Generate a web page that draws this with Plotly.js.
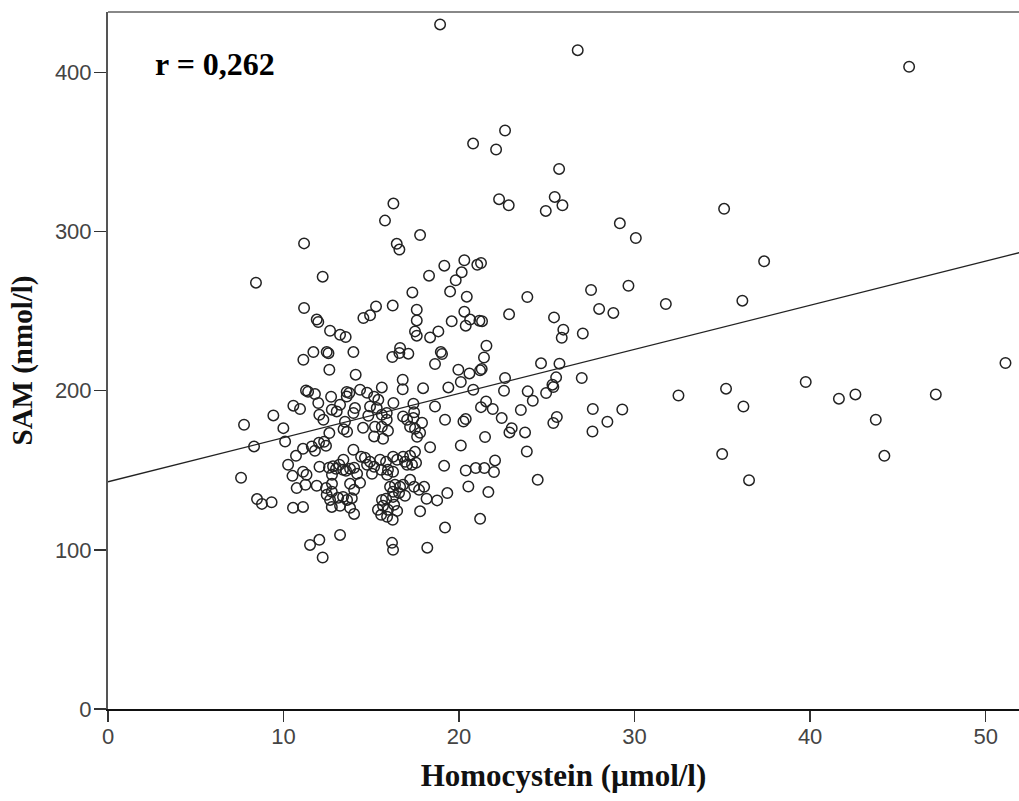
<!DOCTYPE html>
<html>
<head>
<meta charset="utf-8">
<script src="https://cdn.plot.ly/plotly-3.0.1.min.js"></script>
<style>html,body{margin:0;padding:0;background:#fff;}#chart{width:1019px;height:801px;}</style>
</head>
<body>
<div id="chart"></div>
<script>
// Homocystein (µmol/l)
const hcy = [
7.58,7.75,8.43,8.32,8.49,8.77,9.32,9.42,9.99,10.09,10.26,10.54,10.56,10.51,10.71,10.75,10.94,
11.11,11.11,11.17,11.17,11.13,11.28,11.40,11.11,11.31,11.25,11.61,11.79,12.02,12.31,12.42,11.70,11.89,11.98,11.79,
11.98,12.04,12.27,12.05,11.89,12.42,12.46,12.76,12.75,12.65,12.75,12.23,12.46,12.56,12.61,12.65,12.71,12.75,13.03,
13.22,12.61,12.59,12.82,12.99,12.76,13.39,13.18,13.41,13.22,13.54,11.51,12.04,12.23,13.22,13.11,13.39,13.62,13.22,
13.79,13.50,13.42,13.62,13.60,13.75,13.60,13.56,13.79,14.02,14.19,13.79,14.02,14.36,13.89,13.98,13.98,14.07,13.98,
14.11,14.02,
14.36,14.76,15.16,14.55,14.93,15.27,15.40,15.31,14.93,14.83,15.60,15.88,15.88,15.60,16.26,16.22,16.26,15.78,16.45,
16.60,14.53,15.21,15.60,15.16,15.67,15.95,16.64,16.60,17.11,16.20,16.79,16.79,16.81,17.40,17.44,17.40,17.04,17.21,
17.49,17.78,17.61,17.89,17.34,17.59,17.59,17.49,17.59,14.42,14.64,14.93,14.76,15.16,15.04,15.50,15.56,15.84,15.90,
15.95,16.24,16.47,16.24,16.81,16.92,17.21,17.49,17.04,17.32,17.55,16.07,16.35,16.64,16.24,16.58,16.24,16.92,16.81,
17.21,17.44,17.72,18.01,15.61,15.84,15.67,15.38,15.56,15.90,15.95,16.30,16.47,16.22,16.18,16.24,17.78,18.15,18.75,
18.19,17.78,18.29,17.95,18.35,
18.92,19.16,20.30,21.04,21.25,20.15,19.81,19.49,20.44,20.30,19.58,20.63,21.16,21.31,20.38,18.82,18.35,20.80,22.11,
22.62,21.56,21.42,18.96,19.03,18.63,19.96,20.59,21.20,21.29,20.10,19.39,20.81,18.63,19.20,20.25,20.38,21.54,21.25,
21.92,22.43,21.48,20.10,19.15,20.38,20.95,21.44,22.05,21.99,20.53,21.67,19.33,21.20,19.20,22.28,22.83,
22.62,22.56,22.85,23.89,23.00,22.87,23.76,23.52,23.86,23.91,24.20,24.48,24.67,25.72,25.53,25.32,25.37,24.96,25.57,
25.37,25.41,25.94,25.85,27.05,25.70,25.45,25.89,24.94,26.76,26.99,27.52,27.98,28.79,29.65,31.78,27.62,29.30,28.45,
27.60,29.16,30.07,36.14,35.10,37.38,32.50,35.21,36.20,39.75,41.64,42.58,47.16,43.74,34.99,44.23,36.52,45.64,51.13
];
// SAM (nmol/l)
const sam = [
145.3,178.6,267.9,165.0,131.9,128.9,129.9,184.5,176.5,168.1,153.5,126.4,190.6,146.5,159.1,138.8,188.5,
163.5,127.0,292.6,252.0,219.5,200.2,199.4,149.1,147.2,140.9,165.0,162.3,167.3,167.9,165.4,224.3,244.7,243.2,197.9,
192.3,184.9,181.8,152.2,140.3,138.8,134.6,141.5,136.5,131.4,127.0,271.7,224.3,223.6,213.2,237.7,196.2,188.1,187.0,
191.2,173.4,151.6,152.5,150.9,147.2,150.3,153.5,156.6,235.2,233.8,103.1,106.3,95.2,109.4,132.7,133.3,131.4,127.7,
126.4,180.5,175.8,174.2,199.2,198.6,196.4,149.7,150.9,151.6,147.8,141.5,137.7,142.1,132.5,162.9,186.0,189.1,224.3,
210.1,122.6,
200.6,198.7,196.2,245.7,247.4,253.0,194.3,189.1,190.1,184.3,184.9,181.8,186.0,202.1,192.3,253.5,317.6,306.9,292.3,
288.7,176.7,177.4,177.4,171.3,169.8,174.8,226.9,223.7,223.3,221.2,206.9,200.9,183.8,191.8,186.5,182.8,181.8,177.4,
176.1,173.6,171.1,179.9,261.8,250.9,244.2,237.3,234.6,158.5,157.9,155.3,153.5,152.2,147.8,156.6,150.3,155.3,147.2,
150.3,158.5,156.6,149.1,158.5,155.3,159.1,161.6,153.5,153.5,154.7,139.6,140.9,139.6,136.5,135.8,133.3,134.0,140.9,
144.0,139.6,137.7,139.6,131.4,132.1,127.7,125.2,122.0,120.8,125.2,128.3,124.5,118.9,104.4,100.0,124.2,132.1,131.1,
101.4,297.8,272.3,201.6,164.5,
430.2,278.6,282.0,279.1,280.3,274.4,269.4,262.3,259.1,249.7,243.6,244.7,244.0,243.7,240.9,237.3,233.5,355.3,351.6,
363.5,228.3,220.9,224.3,223.1,216.8,213.2,210.9,212.8,213.6,205.5,202.1,200.6,190.1,181.8,180.7,182.2,193.3,189.7,
188.5,182.8,170.9,165.6,152.8,149.9,151.4,151.4,156.2,148.9,139.8,136.3,135.7,119.5,114.0,320.4,316.5,
208.0,200.0,248.0,258.9,176.5,173.8,173.8,187.9,161.8,199.6,193.7,144.0,217.2,217.0,208.4,203.8,202.3,198.6,183.5,
179.7,246.1,238.4,233.3,236.0,339.4,321.8,316.5,313.0,414.0,208.0,263.3,251.4,248.9,266.0,254.5,188.5,188.2,180.5,
174.4,305.2,296.0,256.6,314.3,281.3,197.0,201.3,190.1,205.5,195.0,197.7,197.7,181.8,160.2,159.1,143.8,403.6,217.4
];
// Linear fit line (end points)
const fitX = [0, 52];
const fitY = [142.8, 287.0];
const xTicks = [0, 10, 20, 30, 40, 50];
const yTicks = [0, 100, 200, 300, 400];
const xTitle = 'Homocystein (µmol/l)';
const yTitle = 'SAM (nmol/l)';
const rLabel = 'r = 0,262';

const traces = [
  {x: hcy, y: sam, type: 'scatter', mode: 'markers',
   marker: {symbol: 'circle-open', size: 10.5, color: '#222', line: {width: 1.5, color: '#222'}},
   hoverinfo: 'x+y'},
  {x: fitX, y: fitY, type: 'scatter', mode: 'lines',
   line: {color: '#222', width: 1.3}, hoverinfo: 'skip'}
];

const layout = {
  width: 1019, height: 801,
  margin: {l: 108, r: 0, t: 12, b: 92},
  paper_bgcolor: '#fff', plot_bgcolor: '#fff',
  showlegend: false,
  xaxis: {
    range: [0, 51.9], tickvals: xTicks, ticktext: xTicks.map(String),
    showgrid: false, zeroline: false, showline: true, linecolor: '#111', linewidth: 2,
    ticks: 'outside', ticklen: 11, tickwidth: 1.5, tickcolor: '#333',
    ticklabelstandoff: -4,
    tickfont: {family: 'Liberation Sans, Arial, sans-serif', size: 22, color: '#444'},
    title: {text: xTitle, standoff: 16,
      font: {family: 'Liberation Serif, Times New Roman, serif', size: 31, color: '#111', weight: 'bold'}}
  },
  yaxis: {
    range: [0, 438], tickvals: yTicks, ticktext: yTicks.map(String),
    showgrid: false, zeroline: false, showline: true, linecolor: '#555', linewidth: 2,
    ticks: 'outside', ticklen: 12, tickwidth: 1.5, tickcolor: '#333',
    ticklabelstandoff: -2,
    tickfont: {family: 'Liberation Sans, Arial, sans-serif', size: 22, color: '#444'},
    title: {text: yTitle, standoff: 14,
      font: {family: 'Liberation Serif, Times New Roman, serif', size: 29, color: '#111', weight: 'bold'}}
  },
  shapes: [
    {type: 'line', xref: 'paper', yref: 'paper', x0: 0, x1: 1, y0: 1, y1: 1,
     line: {color: '#888', width: 2}}
  ],
  annotations: [
    {text: '<b>' + rLabel + '</b>', xref: 'paper', yref: 'paper', x: 0.0495, y: 0.926,
     xanchor: 'left', yanchor: 'middle', showarrow: false,
     font: {family: 'Liberation Serif, Times New Roman, serif', size: 32, color: '#000'}}
  ]
};

Plotly.newPlot('chart', traces, layout, {displayModeBar: false, staticPlot: true});
</script>
</body>
</html>
